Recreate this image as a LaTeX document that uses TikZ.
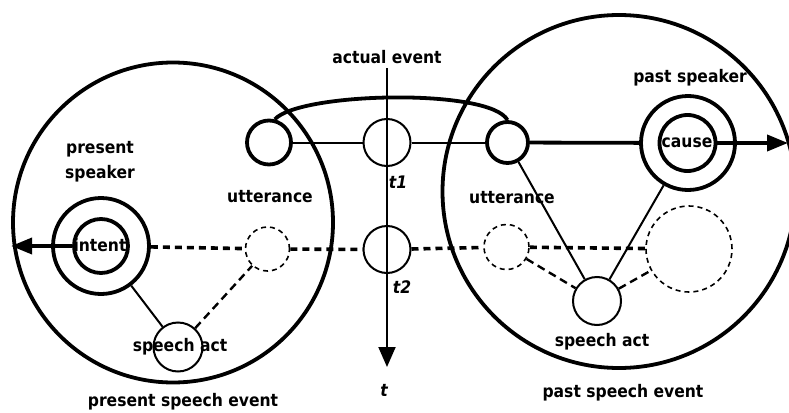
\documentclass[tikz,border=0pt]{standalone}
\usepackage{fontspec}
\setmainfont{DejaVu Sans}[FakeStretch=0.9]
\usetikzlibrary{arrows.meta}
\begin{document}
\begin{tikzpicture}[x=1pt,y=-1pt,
  lbl/.style={font=\fontsize{17.3}{25}\selectfont\bfseries, inner sep=0pt, align=center},
  tlbl/.style={font=\fontsize{17.3}{20}\selectfont\bfseries\itshape, inner sep=0pt},
  bigc/.style={circle, draw, line width=3.8pt, inner sep=0pt, minimum size=#1},
  thickc/.style={circle, draw, line width=3.8pt, inner sep=0pt, minimum size=#1},
  thinc/.style={circle, draw, line width=2pt, inner sep=0pt, minimum size=#1},
  dashc/.style={circle, draw, line width=1.6pt, dash pattern=on 5pt off 4pt, inner sep=0pt, minimum size=#1},
  thinl/.style={line width=2pt},
  thickl/.style={line width=3.8pt},
  dotl/.style={line width=3.6pt, dash pattern=on 7pt off 5pt},
  dashl/.style={line width=2.4pt, dash pattern=on 8pt off 5pt},
  bigarrow/.style={-{Triangle[length=21pt,width=16pt]}},
  axarrow/.style={-{Triangle[length=20pt,width=17pt]}}
]
\useasboundingbox (0,0) rectangle (789,412);

% labels (drawn first, shapes cross them)
\node[lbl] (lactual) at (387,57) {actual event};
\node[lbl] (lpresspk) at (100,162) {present\\speaker};
\node[lbl] (luttL) at (270,197) {utterance};
\node[lbl] (luttR) at (512,198) {utterance};
\node[lbl] (lpastspk) at (690,78) {past speaker};
\node[lbl] (lcause) at (687,143) {cause};
\node[lbl] (lintent) at (100,245) {intent};
\node[lbl] (lsaL) at (180,347) {speech act};
\node[lbl] (lsaR) at (602,342) {speech act};
\node[lbl] (lpastev) at (623,393) {past speech event};
\node[lbl] (lpresev) at (183,402) {present speech event};
\node[tlbl] (lt1) at (398,182) {t1};
\node[tlbl] (lt2) at (402,287) {t2};
\node[tlbl] (lt) at (384,390) {t};

% big event circles
\node[bigc=320pt] (bigL) at (173,222.5) {};
\node[bigc=353pt] (bigR) at (619,191.5) {};

% actual event row t1
\node[thickc=44pt] (uL) at (269,142.5) {};
\node[thinc=47pt] (t1) at (387,142.5) {};
\node[thickc=41pt] (uR) at (507.5,142.5) {};
\node[thickc=94pt] (psO) at (688,143) {};
\node[thickc=56pt] (cause) at (687.5,143) {};

% row t2
\node[thickc=96pt] (presO) at (101,246) {};
\node[thickc=54pt] (intent) at (101,246) {};
\node[dashc=44pt] (dL) at (267.5,249) {};
\node[thinc=47pt] (t2) at (387,249.5) {};
\node[dashc=45pt] (dR) at (506.5,247) {};
\node[dashc=86pt] (dBig) at (689,249) {};

% speech acts
\node[thinc=49pt] (saL) at (178,347) {};
\node[thinc=48pt] (saR) at (597,301) {};

% time axis
\coordinate (axtop) at (387,68);
\coordinate (axbot) at (387,367);
\draw[thinl, axarrow] (axtop) -- (axbot);

% connectors row t1
\draw[thinl] (uL) -- (t1);
\draw[thinl] (t1) -- (uR);
\draw[thickl] (uR) -- (psO);
\coordinate (arrR) at (788,143);
\draw[thickl, bigarrow] (cause.east) -- (arrR);
\draw[thickl] (uL.76) .. controls (300,92) and (490,88) .. (uR.90);

% connectors row t2
\draw[thickl, bigarrow] (intent.west) -- (intent.west -| bigL.west);
\draw[dotl] (presO) -- (dL);
\draw[dotl] (dL) -- (t2);
\draw[dotl] (t2) -- (dR);
\draw[dotl] (dR) -- (dBig);

% speech act links
\draw[thinl] (presO) -- (saL);
\draw[dashl] (saL) -- (dL);
\draw[thinl] (uR) -- (saR);
\draw[thinl] (psO) -- (saR);
\draw[dashl] (dR) -- (saR);
\draw[dashl] (saR) -- (dBig);
\end{tikzpicture}
\end{document}
